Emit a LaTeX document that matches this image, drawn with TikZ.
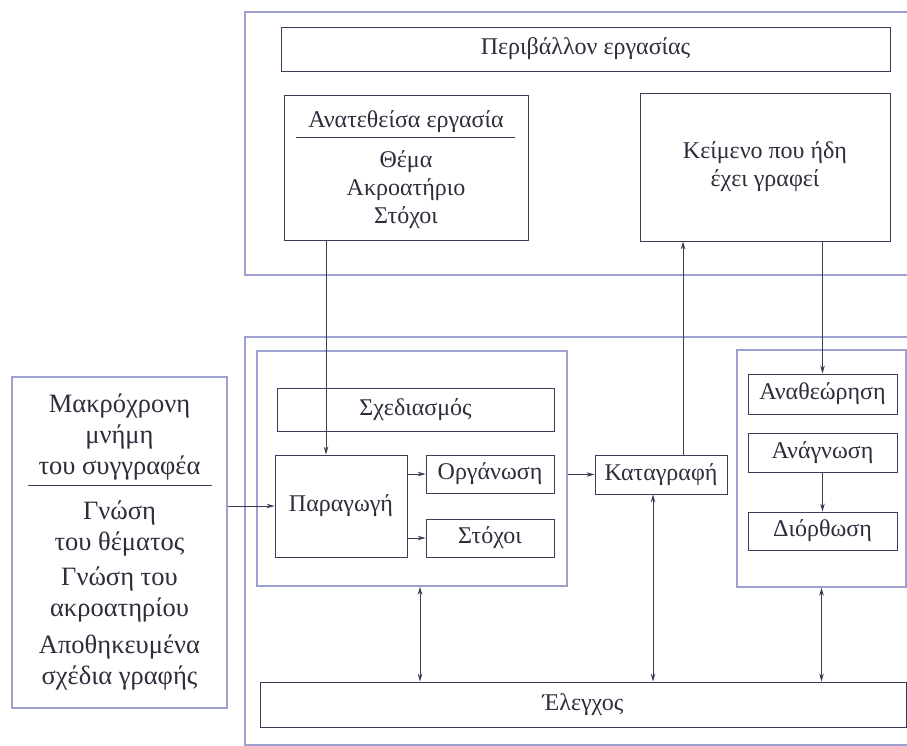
\documentclass[tikz,border=0pt]{standalone}
\usepackage{fontspec}
\setmainfont{Liberation Serif}
\usetikzlibrary{arrows.meta}
\definecolor{linec}{RGB}{58,60,88}
\definecolor{txtc}{RGB}{45,45,60}
\definecolor{grpc}{RGB}{158,160,208}
\newcommand{\fs}{\fontsize{24}{28}\selectfont}
\newcommand{\fm}{\fontsize{26.5}{31}\selectfont}
\tikzset{
  box/.style={draw=linec, line width=0.9pt, inner sep=0pt, text=txtc, font=\fs, align=center},
  grp/.style={draw=grpc, line width=1.5pt, inner sep=0pt},
  lbl/.style={inner sep=0pt, text=txtc, font=\fs, align=center},
  mlbl/.style={inner sep=0pt, text=txtc, font=\fm, align=center},
  arr/.style={draw=linec, line width=0.8pt, -{Stealth[length=8pt,width=4.5pt]}},
  darr/.style={draw=linec, line width=0.8pt, {Stealth[length=8pt,width=4.5pt]}-{Stealth[length=8pt,width=4.5pt]}}
}
\begin{document}
\begin{tikzpicture}[x=1pt,y=-1pt]
\useasboundingbox (0,0) rectangle (907,746);
\fill[white] (0,0) rectangle (907,746);
% outer groups
\draw[grp] (245,12) rectangle (915,275);
\draw[grp] (245,337) rectangle (915,745);
% top
\node[box, minimum width=609, minimum height=44] (env) at (585.5,49) {Περιβάλλον εργασίας};
\node[box, minimum width=244, minimum height=145] (task) at (406,167.5) {};
\node[lbl] (tasktitle) at (406,122) {Ανατεθείσα εργασία};
\draw[linec, line width=0.9pt] (296,137) -- (515,137);
\node[lbl] (taskbody) at (406,190) {Θέμα\\Ακροατήριο\\Στόχοι};
\node[box, minimum width=250, minimum height=148] (text) at (765,167) {Κείμενο που ήδη\\έχει γραφεί};
% inner groups
\node[grp, minimum width=310, minimum height=235] (innerL) at (412,468.5) {};
\node[grp, minimum width=169, minimum height=237] (innerR) at (821.5,468.5) {};
% planning
\node[box, minimum width=277, minimum height=43] (plan) at (415.5,409.5) {Σχεδιασμός};
\node[box, minimum width=132, minimum height=102] (prod) at (341,506) {Παραγωγή};
\node[box, minimum width=128, minimum height=38] (org) at (490,474) {Οργάνωση};
\node[box, minimum width=128, minimum height=38] (goals) at (490,538) {Στόχοι};
\node[box, minimum width=132, minimum height=39] (record) at (661,474.5) {Καταγραφή};
% revision
\node[box, minimum width=149, minimum height=40] (rev) at (822.5,394) {Αναθεώρηση};
\node[box, minimum width=149, minimum height=39] (read) at (822.5,452.5) {Ανάγνωση};
\node[box, minimum width=149, minimum height=38] (corr) at (822.5,531) {Διόρθωση};
% check
\node[box, minimum width=646, minimum height=45] (check) at (583,704.5) {Έλεγχος};
% memory
\node[grp, minimum width=215, minimum height=331] (mem) at (119.5,542.5) {};
\node[mlbl] (memtitle) at (119.5,437) {Μακρόχρονη\\μνήμη\\του συγγραφέα};
\draw[linec, line width=0.9pt] (28,485) -- (212,485);
\node[mlbl] (mem1) at (119.5,528) {Γνώση\\του θέματος};
\node[mlbl] (mem2) at (119.5,594) {Γνώση του\\ακροατηρίου};
\node[mlbl] (mem3) at (119.5,662.5) {Αποθηκευμένα\\σχέδια γραφής};
% arrows
\draw[arr] ([xshift=-80pt]task.south) -- ([xshift=-80pt]task.south |- prod.north);
\draw[arr] (mem.east |- prod.west) -- (prod.west);
\draw[arr] (prod.east |- org.west) -- (org.west);
\draw[arr] (prod.east |- goals.west) -- (goals.west);
\draw[arr] (innerL.east |- record.west) -- (record.west);
\draw[arr] ([xshift=22pt]record.north) -- ([xshift=22pt]record.north |- text.south);
\draw[arr] (rev.north |- text.south) -- (rev.north);
\draw[arr] (read.south) -- (corr.north);
\draw[darr] ([xshift=8pt]innerL.south) -- ([xshift=8pt]innerL.south |- check.north);
\draw[darr] ([xshift=-8pt]record.south) -- ([xshift=-8pt]record.south |- check.north);
\draw[darr] (innerR.south) -- (innerR.south |- check.north);
\end{tikzpicture}
\end{document}
